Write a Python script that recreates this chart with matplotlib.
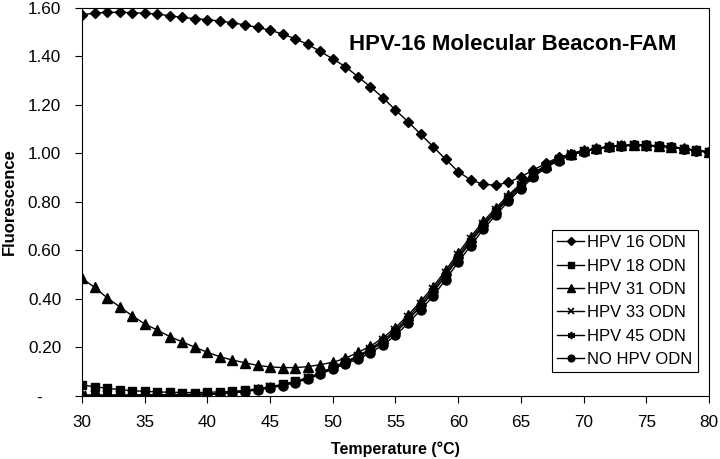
import numpy as np
import matplotlib
matplotlib.use("Agg")
import matplotlib.pyplot as plt
from matplotlib.ticker import FixedLocator, FixedFormatter

plt.rcParams['font.family'] = ['Liberation Sans', 'DejaVu Sans']

# Temperature (deg C), one reading per degree
temperature = list(range(30, 81))

hpv16 = [1.572, 1.579, 1.582, 1.582, 1.581, 1.578, 1.575, 1.568, 1.561, 1.556,
         1.552, 1.546, 1.539, 1.530, 1.520, 1.508, 1.493, 1.473, 1.450, 1.421,
         1.390, 1.358, 1.317, 1.275, 1.230, 1.179, 1.131, 1.080, 1.028, 0.976,
         0.925, 0.891, 0.873, 0.869, 0.881, 0.904, 0.932, 0.960, 0.984, 0.998,
         1.012, 1.019, 1.028, 1.032, 1.034, 1.032, 1.031, 1.027, 1.019, 1.012,
         1.005]

hpv18 = [0.045, 0.038, 0.032, 0.026, 0.022, 0.019, 0.017, 0.015, 0.014, 0.014,
         0.015, 0.017, 0.019, 0.023, 0.030, 0.038, 0.048, 0.060, 0.076, 0.095,
         0.118, 0.139, 0.160, 0.188, 0.222, 0.262, 0.313, 0.368, 0.427, 0.496,
         0.567, 0.635, 0.700, 0.758, 0.813, 0.864, 0.909, 0.947, 0.975, 0.995,
         1.010, 1.019, 1.027, 1.032, 1.034, 1.033, 1.031, 1.027, 1.020, 1.013,
         1.006]

hpv31 = [0.485, 0.448, 0.405, 0.368, 0.331, 0.297, 0.272, 0.245, 0.223, 0.201,
         0.180, 0.162, 0.148, 0.137, 0.126, 0.120, 0.117, 0.117, 0.121, 0.129,
         0.139, 0.155, 0.180, 0.205, 0.240, 0.282, 0.333, 0.390, 0.450, 0.518,
         0.590, 0.657, 0.720, 0.775, 0.828, 0.876, 0.918, 0.953, 0.980, 0.999,
         1.013, 1.021, 1.029, 1.033, 1.035, 1.034, 1.032, 1.028, 1.021, 1.013,
         1.006]

hpv33 = [0.002, 0.002, 0.002, 0.003, 0.003, 0.003, 0.003, 0.003, 0.004, 0.005,
         0.007, 0.010, 0.014, 0.020, 0.027, 0.036, 0.046, 0.058, 0.074, 0.094,
         0.118, 0.141, 0.165, 0.195, 0.230, 0.272, 0.324, 0.380, 0.440, 0.508,
         0.580, 0.647, 0.711, 0.767, 0.821, 0.870, 0.913, 0.950, 0.977, 0.997,
         1.011, 1.020, 1.028, 1.033, 1.035, 1.034, 1.031, 1.027, 1.020, 1.012,
         1.005]

hpv45 = [0.004, 0.004, 0.004, 0.004, 0.004, 0.005, 0.005, 0.005, 0.006, 0.007,
         0.009, 0.011, 0.015, 0.020, 0.027, 0.035, 0.045, 0.057, 0.073, 0.092,
         0.115, 0.137, 0.160, 0.189, 0.223, 0.264, 0.315, 0.370, 0.430, 0.498,
         0.570, 0.638, 0.703, 0.760, 0.815, 0.865, 0.910, 0.948, 0.976, 0.996,
         1.010, 1.019, 1.028, 1.032, 1.034, 1.033, 1.031, 1.027, 1.019, 1.012,
         1.005]

no_hpv = [0.000, 0.000, 0.000, 0.001, 0.001, 0.001, 0.002, 0.002, 0.003, 0.004,
          0.006, 0.009, 0.013, 0.018, 0.025, 0.033, 0.043, 0.055, 0.070, 0.089,
          0.112, 0.132, 0.152, 0.178, 0.210, 0.250, 0.300, 0.354, 0.412, 0.480,
          0.552, 0.620, 0.687, 0.746, 0.803, 0.855, 0.902, 0.942, 0.971, 0.992,
          1.008, 1.018, 1.027, 1.032, 1.034, 1.033, 1.031, 1.027, 1.020, 1.012,
          1.005]

series_labels = ["HPV 16 ODN", "HPV 18 ODN", "HPV 31 ODN",
                 "HPV 33 ODN", "HPV 45 ODN", "NO HPV ODN"]

y_ticks = [0.0, 0.2, 0.4, 0.6, 0.8, 1.0, 1.2, 1.4, 1.6]
y_tick_labels = ["-    ", "0.20", "0.40", "0.60", "0.80", "1.00", "1.20", "1.40", "1.60"]
x_ticks = [30, 35, 40, 45, 50, 55, 60, 65, 70, 75, 80]


def main():
    fig = plt.figure(figsize=(7.2, 4.59), dpi=100)
    ax = fig.add_axes([0.1139, 0.1373, 0.8708, 0.8453])

    styles = [
        (hpv16, dict(marker='D', markersize=5.5)),
        (hpv18, dict(marker='s', markersize=6)),
        (hpv31, dict(marker='^', markersize=7)),
        (hpv33, dict(marker='x', markersize=6, markeredgewidth=1.2)),
        (hpv45, dict(marker=(6, 2, 0), markersize=7, markeredgewidth=1.2)),
        (no_hpv, dict(marker='o', markersize=6.5)),
    ]
    for (vals, st), label in zip(styles, series_labels):
        ax.plot(temperature, vals, color='black', linewidth=1.0,
                markerfacecolor='black', markeredgecolor='black',
                label=label, **st)

    ax.set_xlim(30, 80)
    ax.set_ylim(0, 1.6)
    ax.xaxis.set_major_locator(FixedLocator(x_ticks))
    ax.yaxis.set_major_locator(FixedLocator(y_ticks))
    ax.yaxis.set_major_formatter(FixedFormatter(y_tick_labels))
    ax.tick_params(direction='out', length=5, width=0.8, labelsize=12.3,
                   colors='black')
    ax.tick_params(axis='x', pad=9)
    ax.tick_params(axis='y', pad=10)
    for sp in ax.spines.values():
        sp.set_linewidth(0.8)
        sp.set_color('black')

    ax.set_xlabel('Temperature (°C)', fontsize=11.5, fontweight='bold', labelpad=8)
    ax.set_ylabel('Fluorescence', fontsize=12, fontweight='bold', labelpad=8)

    ax.text(0.687, 0.905, 'HPV-16 Molecular Beacon-FAM', transform=ax.transAxes,
            ha='center', va='center', fontsize=16, fontweight='bold')

    leg = ax.legend(loc='lower right', bbox_to_anchor=(0.982, 0.062),
                    fontsize=12, frameon=True, fancybox=False,
                    edgecolor='black', framealpha=1, handlelength=1.6,
                    handletextpad=0.2, labelspacing=0.5, borderpad=0.3,
                    borderaxespad=0, markerscale=0.75)
    leg.get_frame().set_linewidth(0.8)

    fig.savefig('out.png', dpi=100)


if __name__ == "__main__":
    main()
